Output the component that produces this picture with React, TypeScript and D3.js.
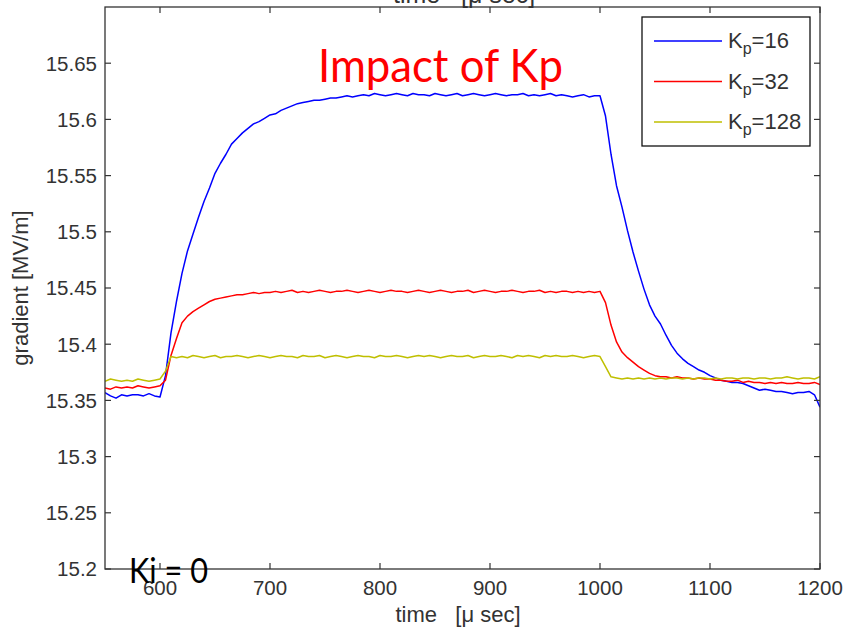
import React from "react";
import * as d3 from "d3";

// sample times (µs), every 5 µs from 550 to 1200
const TIME: number[] = d3.range(550, 1201, 5);

const KP16: number[] = [
  15.357, 15.354, 15.352, 15.355, 15.354, 15.355, 15.355, 15.354, 15.356, 15.354, 15.353,
  15.372, 15.410, 15.438, 15.463, 15.483, 15.498, 15.513, 15.527, 15.539, 15.552,
  15.561, 15.569, 15.578, 15.583, 15.588, 15.592, 15.596, 15.598, 15.601, 15.604,
  15.605, 15.608, 15.610, 15.612, 15.614, 15.615, 15.616, 15.617, 15.617, 15.618,
  15.619, 15.619, 15.620, 15.621, 15.620,
  15.621, 15.622, 15.621, 15.623, 15.622, 15.621, 15.622, 15.623, 15.622, 15.621,
  15.623, 15.622, 15.622, 15.621, 15.623, 15.622, 15.621, 15.622, 15.623, 15.621,
  15.622, 15.623, 15.622, 15.621, 15.622, 15.623, 15.622, 15.621, 15.622, 15.622,
  15.623, 15.621, 15.622, 15.621, 15.622, 15.623, 15.621, 15.622, 15.621, 15.620,
  15.621, 15.622, 15.620, 15.621, 15.621,
  15.603, 15.569, 15.541, 15.522, 15.501, 15.482, 15.465, 15.449, 15.435, 15.425,
  15.418, 15.408, 15.399, 15.392, 15.387, 15.383, 15.380, 15.377, 15.375, 15.372,
  15.370, 15.368, 15.367, 15.366, 15.366, 15.365, 15.363, 15.361, 15.359, 15.360,
  15.359, 15.358, 15.358, 15.357, 15.356, 15.357, 15.357, 15.358, 15.355, 15.344,
];

const KP32: number[] = [
  15.361, 15.360, 15.362, 15.361, 15.362, 15.361, 15.363, 15.362, 15.361, 15.362, 15.363,
  15.368, 15.390, 15.405, 15.419, 15.425, 15.429, 15.432, 15.435, 15.438, 15.440,
  15.441, 15.442, 15.443, 15.444, 15.444, 15.445, 15.446, 15.445, 15.446, 15.446,
  15.447, 15.446, 15.447, 15.448, 15.446, 15.447, 15.446, 15.447, 15.448, 15.447,
  15.446, 15.447, 15.447, 15.448, 15.447, 15.446, 15.447, 15.448, 15.447, 15.446,
  15.447, 15.448, 15.447, 15.447, 15.446, 15.447, 15.448, 15.447, 15.446, 15.447,
  15.448, 15.447, 15.446, 15.447, 15.447, 15.448, 15.446, 15.447, 15.448, 15.447,
  15.446, 15.447, 15.447, 15.448, 15.447, 15.446, 15.447, 15.447, 15.448, 15.446,
  15.447, 15.446, 15.447, 15.447, 15.446, 15.447, 15.446, 15.447, 15.446, 15.447,
  15.437, 15.417, 15.402, 15.393, 15.388, 15.384, 15.380, 15.377, 15.374, 15.372,
  15.371, 15.371, 15.370, 15.371, 15.370, 15.370, 15.369, 15.370, 15.369, 15.369,
  15.368, 15.368, 15.367, 15.367, 15.368, 15.366, 15.367, 15.366, 15.366, 15.365,
  15.366, 15.365, 15.366, 15.365, 15.365, 15.366, 15.365, 15.365, 15.366, 15.364,
];

const KP128: number[] = [
  15.367, 15.369, 15.368, 15.367, 15.368, 15.367, 15.369, 15.368, 15.367, 15.368, 15.369,
  15.376, 15.389, 15.388,
  15.389, 15.388, 15.390, 15.389, 15.388, 15.389, 15.390, 15.388, 15.389, 15.389,
  15.390, 15.389, 15.388, 15.389, 15.390, 15.389, 15.388, 15.389, 15.390, 15.389,
  15.389, 15.388, 15.390, 15.389, 15.389, 15.390, 15.388, 15.389, 15.390, 15.389,
  15.388, 15.389, 15.390, 15.389, 15.389, 15.388, 15.390, 15.389, 15.389, 15.390,
  15.389, 15.388, 15.389, 15.390, 15.389, 15.390, 15.389, 15.388, 15.389, 15.390,
  15.389, 15.389, 15.390, 15.388, 15.389, 15.390, 15.389, 15.389, 15.390, 15.389,
  15.388, 15.390, 15.389, 15.390, 15.389, 15.388, 15.390, 15.389, 15.390, 15.389,
  15.389, 15.390, 15.389, 15.388, 15.389, 15.390, 15.389,
  15.380, 15.371, 15.370, 15.369, 15.370, 15.369, 15.370, 15.369, 15.370, 15.369,
  15.370, 15.369, 15.370, 15.370, 15.369, 15.370, 15.369, 15.370, 15.370, 15.369,
  15.370, 15.369, 15.370, 15.370, 15.369, 15.370, 15.370, 15.369, 15.370, 15.370,
  15.369, 15.370, 15.370, 15.371, 15.370, 15.369, 15.370, 15.370, 15.369, 15.371,
];

const SERIES_NAMES = ["16", "32", "128"];
const SERIES_COLORS = ["#0000ff", "#ff0000", "#bfbf00"];
const X_TICKS = [600, 700, 800, 900, 1000, 1100, 1200];
const Y_TICKS = [15.2, 15.25, 15.3, 15.35, 15.4, 15.45, 15.5, 15.55, 15.6, 15.65];

const W = 843;
const H = 632;
const M = { left: 105, right: 820, top: 7, bottom: 569 };
const AX = "#333333";
const FONT = "'Liberation Sans', Arial, sans-serif";

export default function App() {
  const x = d3.scaleLinear().domain([550, 1200]).range([M.left, M.right]);
  const y = d3.scaleLinear().domain([15.2, 15.7]).range([M.bottom, M.top]);
  const all = [KP16, KP32, KP128];
  const line = (vals: number[]) =>
    d3.line<number>().x((_, i) => x(TIME[i])).y((v) => y(v))(vals) || "";
  const tl = 6;

  return (
    <svg width={W} height={H} style={{ position: "fixed", left: 0, top: 0, background: "#fff" }}>
      <defs>
        <clipPath id="plot">
          <rect x={M.left} y={M.top} width={M.right - M.left} height={M.bottom - M.top} />
        </clipPath>
      </defs>
      <rect x={0} y={0} width={W} height={H} fill="#fff" />

      {/* cut-off title at top */}
      <text x={393} y={3} fontFamily={FONT} fontSize={25} fill={AX} style={{ whiteSpace: "pre" }}>
        {"time   [μ sec]"}
      </text>

      {/* series */}
      <g clipPath="url(#plot)">
        {all.map((vals, k) => (
          <path key={k} d={line(vals)} fill="none" stroke={SERIES_COLORS[k]} strokeWidth={1.5} strokeLinejoin="round" />
        ))}
      </g>

      {/* axes box */}
      <rect x={M.left} y={M.top} width={M.right - M.left} height={M.bottom - M.top} fill="none" stroke={AX} strokeWidth={1.3} />

      {X_TICKS.map((t) => (
        <g key={"x" + t}>
          <line x1={x(t)} x2={x(t)} y1={M.bottom} y2={M.bottom - tl} stroke={AX} strokeWidth={1.2} />
          <line x1={x(t)} x2={x(t)} y1={M.top} y2={M.top + tl} stroke={AX} strokeWidth={1.2} />
          <text x={x(t)} y={595} textAnchor="middle" fontFamily={FONT} fontSize={20.5} fill={AX}>
            {t}
          </text>
        </g>
      ))}
      {Y_TICKS.map((v) => (
        <g key={"y" + v}>
          <line x1={M.left} x2={M.left + tl} y1={y(v)} y2={y(v)} stroke={AX} strokeWidth={1.2} />
          <line x1={M.right} x2={M.right - tl} y1={y(v)} y2={y(v)} stroke={AX} strokeWidth={1.2} />
          <text x={97} y={y(v)} dy="0.36em" textAnchor="end" fontFamily={FONT} fontSize={20.5} fill={AX}>
            {String(v)}
          </text>
        </g>
      ))}

      {/* axis labels */}
      <text x={458} y={622} textAnchor="middle" fontFamily={FONT} fontSize={22} fill={AX} style={{ whiteSpace: "pre" }}>
        {"time   [μ sec]"}
      </text>
      <text
        transform={`translate(28,288) rotate(-90)`}
        textAnchor="middle"
        fontFamily={FONT}
        fontSize={22}
        fill={AX}
      >
        gradient [MV/m]
      </text>

      {/* legend */}
      <rect x={642} y={17} width={168} height={129} fill="#fff" stroke="#111" strokeWidth={1.3} />
      {SERIES_NAMES.map((n, k) => {
        const ly = 41 + k * 40.5;
        return (
          <g key={n}>
            <line x1={654} x2={722} y1={ly} y2={ly} stroke={SERIES_COLORS[k]} strokeWidth={1.5} />
            <text x={728} y={ly + 7} fontFamily={FONT} fontSize={22} fill={AX}>
              K
              <tspan fontSize={16} dy={6}>p</tspan>
              <tspan dy={-6}>{"=" + n}</tspan>
            </text>
          </g>
        );
      })}

      {/* annotations */}
      <text x={318} y={82} fontFamily="Lato, 'Open Sans', sans-serif" fontSize={47} fill="#ff0000" textLength={245} lengthAdjust="spacingAndGlyphs">
        Impact of Kp
      </text>
      <text x={129} y={583} fontFamily="Lato, 'Open Sans', sans-serif" fontSize={35} fill="#000" textLength={79} lengthAdjust="spacingAndGlyphs">
        Ki = 0
      </text>
    </svg>
  );
}
